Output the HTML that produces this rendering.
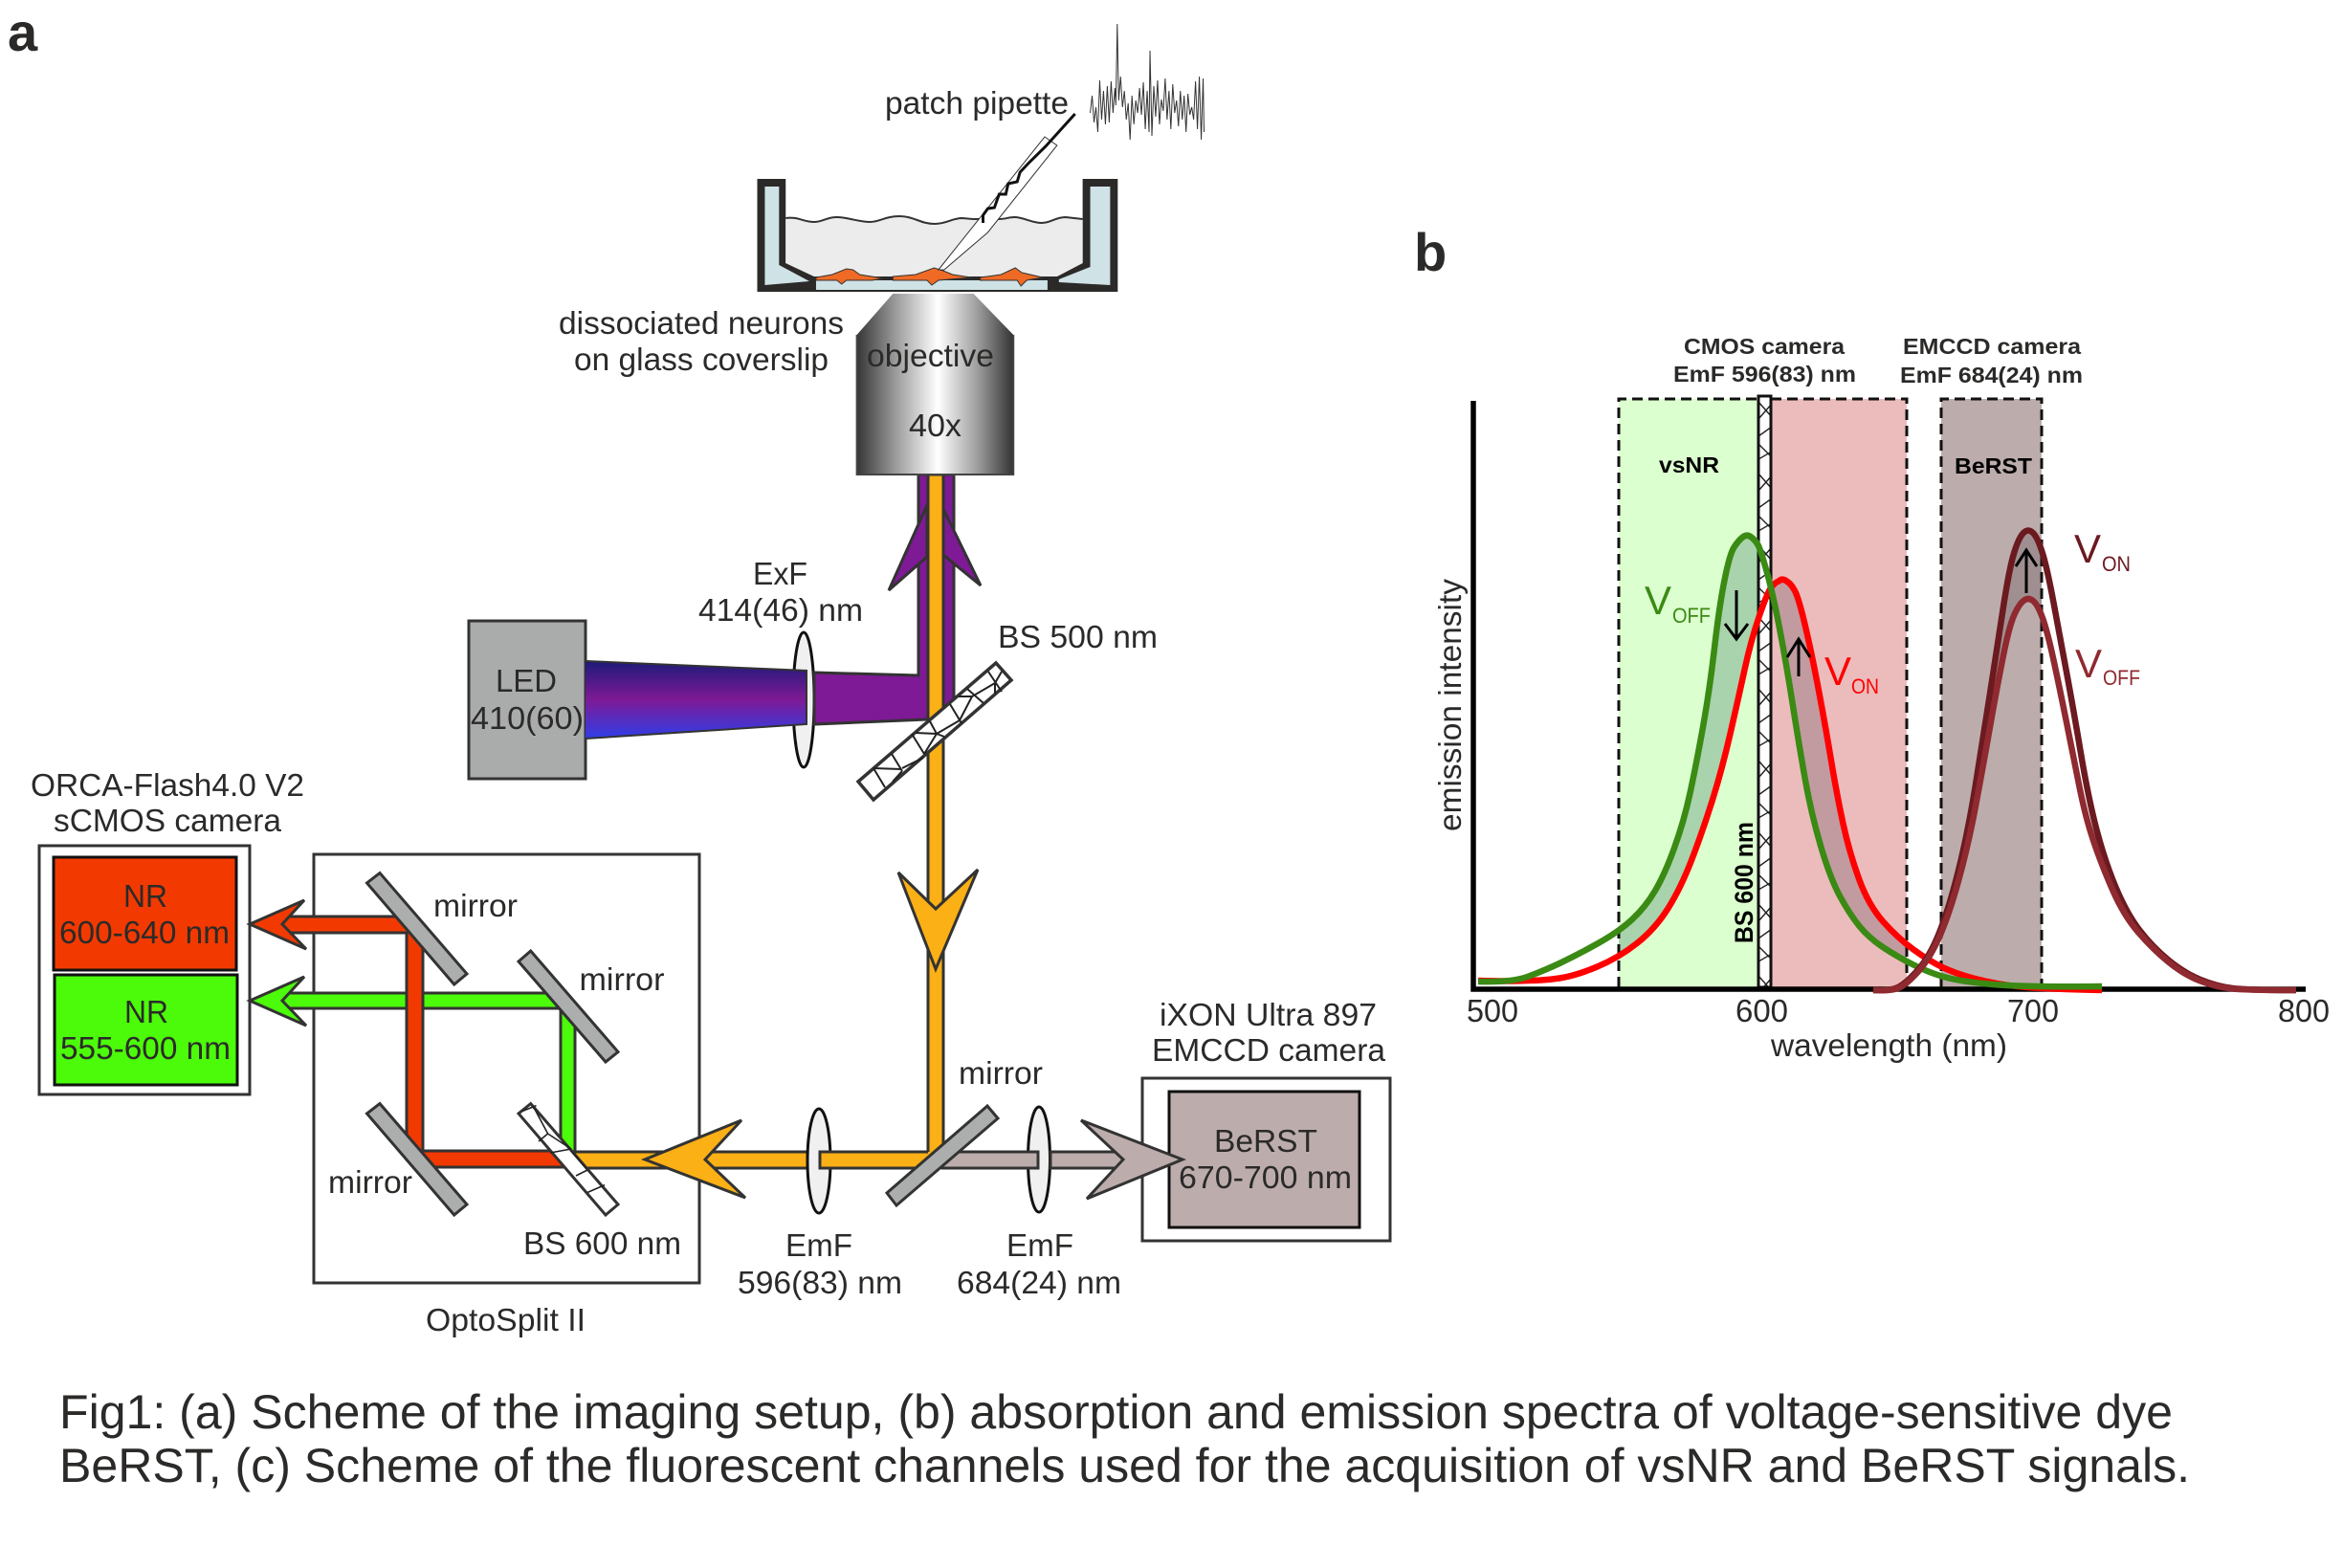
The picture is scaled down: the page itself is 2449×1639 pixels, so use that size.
<!DOCTYPE html>
<html><head><meta charset="utf-8"><title>Fig1</title>
<style>html,body{margin:0;padding:0;background:#fff}svg{display:block}
text{font-family:"Liberation Sans",sans-serif;fill:#2b2a29;font-size:33px}
.b{font-weight:bold;font-size:23px}
.c{stroke:#333;stroke-width:3;stroke-linejoin:miter}
</style></head><body>
<svg xmlns="http://www.w3.org/2000/svg" width="2449" height="1639" viewBox="0 0 2449 1639">
<defs>
<linearGradient id="obj" gradientUnits="userSpaceOnUse" x1="897" y1="0" x2="1063" y2="0">
<stop offset="0" stop-color="#333"/><stop offset=".25" stop-color="#9a9a9a"/><stop offset=".52" stop-color="#fff"/><stop offset=".78" stop-color="#9a9a9a"/><stop offset="1" stop-color="#333"/></linearGradient>
<linearGradient id="led" x1="0" y1="0" x2="0" y2="1">
<stop offset="0" stop-color="#1d1a78"/><stop offset=".5" stop-color="#7e1a95"/><stop offset="1" stop-color="#2f3ee8"/></linearGradient>
<pattern id="zig" patternUnits="userSpaceOnUse" x="1838" y="414" width="14" height="75">
<path d="M0 6L14 22M0 24L14 8M0 42L14 32M0 50L14 64M0 66L14 58" fill="none" stroke="#222" stroke-width="1.4"/></pattern>
</defs>

<!-- dish -->
<g transform="matrix(.9916 0 0 1 5.16 0)">
<path d="M793 187H823V275L853 289H1109L1136 275V187H1173V305H793Z" fill="#2b2a29"/>
<polygon points="801,195 816,195 816,277 848,294 801,298" fill="#cfe2e6"/>
<polygon points="1144,195 1165,195 1165,298 1111,295 1111,292 1144,279" fill="#cfe2e6"/>
<path d="M823 228C835 226 842 232 853 232C862 232 866 227 877 227C888 227 900 232 912 232C922 232 928 226 943 226C958 226 965 234 980 234C993 234 998 228 1009 228L1021 229L1048 229C1055 229 1058 227 1064 227C1074 227 1082 233 1093 233C1103 233 1107 227 1118 227L1136 229L1136 275 1109 289 853 289 823 275Z" fill="#ececec"/>
<path d="M823 228C835 226 842 232 853 232C862 232 866 227 877 227C888 227 900 232 912 232C922 232 928 226 943 226C958 226 965 234 980 234C993 234 998 228 1009 228L1021 229L1048 229C1055 229 1058 227 1064 227C1074 227 1082 233 1093 233C1103 233 1107 227 1118 227L1136 229" fill="none" stroke="#333" stroke-width="2"/>
<rect x="855" y="293" width="244" height="10" fill="#cfe2e6"/>
<polygon points="855,290 872,287 887,281 894,282 901,287 926,291 914,293 887,293 882,297 877,293 855,293" fill="#ee6a25" stroke="#333" stroke-width="1"/>
<polygon points="936,289 960,287 979.5,280 989,283 999,287 1018.5,290 984,293 977,298 972,293 936,293" fill="#ee6a25" stroke="#333" stroke-width="1"/>
<polygon points="1028,290 1050,287 1065,280 1072,285 1094,290 1077,293 1071,299 1067,293 1028,293" fill="#ee6a25" stroke="#333" stroke-width="1"/>
<polygon points="984,282 1096,143 1109,152 1036,243 990,282" fill="#fff" stroke="#333" stroke-width="1"/>
<polyline points="1128,119 1097,153 1079.5,170 1070,180 1067,190 1057.5,192 1055,203 1048,203 1043,217 1036,218 1031,225 1031,233" fill="none" stroke="#111" stroke-width="3"/>
<polyline points="1144,118 1146,100 1148,128 1150,112 1152,138 1154,84 1156,125 1158,95 1160,130 1162,90 1164,128 1166,85 1168,118 1170,92 1171,110 1172.5,25 1174,105 1176,80 1178,112 1180,95 1182,125 1184,108 1186,146 1188,100 1190,130 1192,105 1194,118 1196,92 1198,120 1200,86 1202,135 1204,95 1206,138 1207,53 1209,142 1211,90 1213,122 1215,84 1217,130 1219,104 1221,116 1223,82 1225,125 1227,95 1229,135 1231,88 1233,118 1235,105 1237,132 1239,95 1241,125 1243,100 1245,138 1247,98 1249,120 1251,112 1253,125 1255,85 1257,135 1259,80 1261,146 1263,82 1264,138" fill="none" stroke="#333" stroke-width="1"/>
</g>

<!-- LED & excitation -->
<rect x="490" y="649" width="122" height="165" fill="#aaacac" class="c"/>
<ellipse cx="840" cy="731.5" rx="11" ry="70.5" fill="#f0f0f0" stroke="#111" stroke-width="3"/>
<polygon points="612,691 843,701 843,757 612,772" fill="url(#led)"/>
<path d="M612 691L843 701V757L612 772" fill="none" stroke="#333" stroke-width="2"/>
<polygon points="851,703 960,706 960,496 997,496 997,735 969,752 851,757" fill="#7e1a95" class="c"/>
<polygon points="969,528 929,617 969,582" fill="#7e1a95" class="c"/>
<polygon points="986,532 1025,612 986,580" fill="#7e1a95" class="c"/>

<!-- orange beam -->
<rect x="970" y="496" width="16" height="712" fill="#fbb016" class="c"/>
<polygon points="897,817 1041,693 1057,711 913,836" fill="#fff" stroke="#333" stroke-width="3.5"/>
<path d="M913 803L925 823M913 803L942 804M932 788L943 806M933 817L943 806M943 803L965 792M953 767L966 788M966 788L979 767M957 766L979 767M972 754L979 767M979 767L1003 753M979 767L987 770M993 736L1005 756M1003 753L1016 728M1002 728L1016 728M1011 720L1028 735M1016 728L1040 714M1033 702L1047 723M1040 714L1040 725M1040 714L1047 702" stroke="#222" stroke-width="2" fill="none"/>
<polygon points="939,912 978,950 1022,909 978,1013" fill="#fbb016" class="c"/>

<!-- objective -->
<g transform="matrix(.9916 0 0 1 5.16 0)">
<polygon points="936,307 1021,307 1063,350 1063,496 898,496 898,350" fill="url(#obj)"/>
<path d="M898 350V496H1063V350" fill="none" stroke="#444" stroke-width="2"/>
</g>

<!-- camera 1 -->
<rect x="41" y="884" width="220" height="260" fill="#fff" class="c"/>
<rect x="56" y="896" width="191" height="118" fill="#f23a00" stroke="#111" stroke-width="3"/>
<rect x="57" y="1019" width="191" height="115" fill="#4cfb0a" stroke="#111" stroke-width="3"/>

<!-- optosplit -->
<rect x="328" y="893" width="403" height="448" fill="#fff" class="c"/>
<polygon points="295,1038 580,1038 601,1055 601,1212 586,1212 586,1054 295,1054" fill="#4cfb0a" class="c"/>
<polygon points="295,958 430,958 442,970 442,1203 590,1203 590,1220 440,1220 425,1212 425,975 295,975" fill="#f23a00" class="c"/>
<polygon points="318,941 295,966 320,992 261,966" fill="#f23a00" class="c"/>
<polygon points="318,1021 295,1046 320,1072 261,1046" fill="#4cfb0a" class="c"/>
<polygon points="397,912.5 383.5,923 474.7,1029 488,1018" fill="#acadad" class="c"/>
<polygon points="554.7,994 542,1005 633,1110 646,1099.5" fill="#acadad" class="c"/>
<polygon points="397,1153.6 383.5,1164 474.7,1270 488,1259" fill="#acadad" class="c"/>

<!-- lenses and emission beams -->
<rect x="596" y="1204" width="248" height="17" fill="#fbb016" class="c"/>
<ellipse cx="856" cy="1213.5" rx="12" ry="54.5" fill="#f0f0f0" stroke="#111" stroke-width="3"/>
<ellipse cx="1086" cy="1212" rx="11.5" ry="55" fill="#f0f0f0" stroke="#111" stroke-width="3"/>
<rect x="857" y="1204" width="120" height="17" fill="#fbb016" class="c"/>
<rect x="985" y="1204" width="100" height="17" fill="#bcadac" class="c"/>
<rect x="1098" y="1204" width="88" height="17" fill="#bcadac" class="c"/>
<rect x="970" y="1190" width="16" height="20" fill="#fbb016"/>
<path d="M970 1190V1204M986 1190V1204" stroke="#333" stroke-width="3"/>
<polygon points="554.7,1153.6 542,1164 633,1270 646,1259" fill="#fff" class="c"/>
<path d="M546 1161.5L560.5 1155.6M558 1157.6L572.6 1185M572.6 1185L597 1201M563 1193L572.6 1185M575 1205L597 1201M597 1203L614 1223M602 1229L614 1223M614 1246.5L632 1238.6" stroke="#222" stroke-width="1.6" fill="none"/>
<polygon points="775,1171 737,1212 779,1252 674,1212" fill="#fbb016" class="c"/>
<polygon points="1032,1156 1043,1169 937,1260 927,1247" fill="#acadad" class="c"/>

<!-- camera 2 -->
<rect x="1194" y="1127" width="259" height="170" fill="#fff" class="c"/>
<rect x="1222" y="1141" width="199" height="142" fill="#bcadac" stroke="#111" stroke-width="3"/>
<polygon points="1130,1171 1174,1212 1136,1253 1236,1212" fill="#bcadac" class="c"/>

<!-- panel a labels -->
<text x="925" y="119" textLength="192" lengthAdjust="spacingAndGlyphs">patch pipette</text>
<text x="584" y="349" textLength="298" lengthAdjust="spacingAndGlyphs">dissociated neurons</text>
<text x="600" y="387" textLength="266" lengthAdjust="spacingAndGlyphs">on glass coverslip</text>
<text x="906" y="383" textLength="133" lengthAdjust="spacingAndGlyphs">objective</text>
<text x="950" y="456" textLength="55" lengthAdjust="spacingAndGlyphs">40x</text>
<text x="787" y="611" textLength="57" lengthAdjust="spacingAndGlyphs">ExF</text>
<text x="730" y="649" textLength="172" lengthAdjust="spacingAndGlyphs">414(46) nm</text>
<text x="1043" y="677" textLength="167" lengthAdjust="spacingAndGlyphs">BS 500 nm</text>
<text x="518" y="723" textLength="64" lengthAdjust="spacingAndGlyphs">LED</text>
<text x="492" y="762" textLength="118" lengthAdjust="spacingAndGlyphs">410(60)</text>
<text x="32" y="832" textLength="286" lengthAdjust="spacingAndGlyphs">ORCA-Flash4.0 V2</text>
<text x="56" y="869" textLength="238" lengthAdjust="spacingAndGlyphs">sCMOS camera</text>
<text x="129" y="948" textLength="46" lengthAdjust="spacingAndGlyphs">NR</text>
<text x="62" y="986" textLength="178" lengthAdjust="spacingAndGlyphs">600-640 nm</text>
<text x="130" y="1069" textLength="46" lengthAdjust="spacingAndGlyphs">NR</text>
<text x="63" y="1107" textLength="178" lengthAdjust="spacingAndGlyphs">555-600 nm</text>
<text x="453" y="958" textLength="88" lengthAdjust="spacingAndGlyphs">mirror</text>
<text x="605.5" y="1035" textLength="89" lengthAdjust="spacingAndGlyphs">mirror</text>
<text x="343" y="1247" textLength="88" lengthAdjust="spacingAndGlyphs">mirror</text>
<text x="547" y="1311" textLength="165" lengthAdjust="spacingAndGlyphs">BS 600 nm</text>
<text x="445" y="1391" textLength="167" lengthAdjust="spacingAndGlyphs">OptoSplit II</text>
<text x="1002" y="1133" textLength="88" lengthAdjust="spacingAndGlyphs">mirror</text>
<text x="821" y="1313" textLength="70" lengthAdjust="spacingAndGlyphs">EmF</text>
<text x="771" y="1352" textLength="172" lengthAdjust="spacingAndGlyphs">596(83) nm</text>
<text x="1052" y="1313" textLength="70" lengthAdjust="spacingAndGlyphs">EmF</text>
<text x="1000" y="1352" textLength="172" lengthAdjust="spacingAndGlyphs">684(24) nm</text>
<text x="1212" y="1072" textLength="227" lengthAdjust="spacingAndGlyphs">iXON Ultra 897</text>
<text x="1204" y="1109" textLength="244" lengthAdjust="spacingAndGlyphs">EMCCD camera</text>
<text x="1269" y="1204" textLength="108" lengthAdjust="spacingAndGlyphs">BeRST</text>
<text x="1232" y="1242" textLength="181" lengthAdjust="spacingAndGlyphs">670-700 nm</text>

<!-- panel b -->
<rect x="1692" y="417" width="146" height="615" fill="#dcffcf"/>
<rect x="1851" y="417" width="142" height="615" fill="#ecbcbc"/>
<rect x="2029" y="417" width="105" height="615" fill="#bcadac"/>
<polygon points="1692,974 1720,948 1740,914 1760,859 1773,799 1787,721 1797,634 1808,579 1817,565 1826,560 1833,565 1840,574 1851,612 1847,620 1830,670 1817,730 1800,804 1780,868 1757,928 1730,971 1692,1001" fill="#a9d3ac"/>
<polygon points="1851,612 1855,609 1863,606 1872,611 1880,625 1893,680 1907,753 1920,831 1933,891 1953,946 1983,980 1993,987 1993,1006 1983,1000 1953,980 1933,955 1913,918 1893,850 1880,776 1867,693 1853,620" fill="#c19ba0"/>
<polygon points="2057,870 2073,770 2087,680 2100,595 2110,562 2120,554 2130,562 2134,575 2134,645 2130,632 2120,626 2110,632 2100,655 2087,720 2073,800 2057,885" fill="#a08f90"/>
<rect x="1838" y="414" width="14" height="618" fill="#fff"/>
<rect x="1838" y="414" width="14" height="618" fill="url(#zig)"/>
<rect x="1838" y="414" width="13" height="618" fill="none" stroke="#111" stroke-width="3"/>
<path d="M1692 1032V417H1838M1851 417H1993V1032M2029 1032V417H2134V1032" fill="none" stroke="#111" stroke-width="3" stroke-dasharray="11 6"/>
<path d="M1540 419V1034H2410" fill="none" stroke="#000" stroke-width="5.5"/>

<path d="M1545 1025Q1580 1026 1596 1025Q1613 1025 1630 1022.5Q1647 1020 1669.5 1010.5Q1692 1001 1711 986Q1730 971 1743.5 949.5Q1757 928 1768.5 898Q1780 868 1790 836Q1800 804 1808.5 767Q1817 730 1823.5 700Q1830 670 1838.5 645Q1847 620 1851 614.5Q1855 609 1859 607.5Q1863 604 1867.5 607.5Q1872 610 1876 617.5Q1880 625 1886.5 652.5Q1893 680 1900 716.5Q1907 753 1913.5 792Q1920 831 1926.5 861Q1933 891 1943 918.5Q1953 946 1968 963Q1983 980 2000 992.5Q2017 1005 2033.5 1012.5Q2050 1020 2075 1025.5Q2100 1031 2125 1032.5Q2150 1034 2197 1035" fill="none" stroke="#f00" stroke-width="6.5"/>
<path d="M1545 1026Q1580 1027 1596.5 1021Q1613 1015 1630 1007Q1647 999 1669.5 986.5Q1692 974 1706 961Q1720 948 1730 931Q1740 914 1750 886.5Q1760 859 1766.5 829Q1773 799 1780 760Q1787 721 1792 677.5Q1797 634 1802.5 606.5Q1808 579 1812.5 572Q1817 565 1821.5 561.5Q1826 558 1830.5 561.5Q1835 565 1837.5 569.5Q1840 574 1846.5 597Q1853 620 1860 656.5Q1867 693 1873.5 734.5Q1880 776 1886.5 813Q1893 850 1903 884Q1913 918 1923 936.5Q1933 955 1943 967.5Q1953 980 1968 990Q1983 1000 2000 1008.5Q2017 1017 2033.5 1021.5Q2050 1026 2083.5 1029Q2117 1032 2197 1031" fill="none" stroke="#3a8a14" stroke-width="6.5"/>
<path d="M1958 1035Q1977 1036 1985 1031.5Q1993 1027 2005 1013.5Q2017 1000 2027 975Q2037 950 2047 910Q2057 870 2065 820Q2073 770 2080 725Q2087 680 2093.5 637.5Q2100 595 2105 578.5Q2110 562 2115 557Q2120 552 2125 557Q2130 562 2135 578.5Q2140 595 2146.5 630Q2153 665 2160 702.5Q2167 740 2175 787.5Q2183 835 2191.5 867.5Q2200 900 2211.5 927.5Q2223 955 2236.5 972.5Q2250 990 2266.5 1003.5Q2283 1017 2300 1024Q2317 1031 2333.5 1033Q2350 1035 2400 1035" fill="none" stroke="#6b1a20" stroke-width="6.5"/>
<path d="M1958 1035Q1977 1036 1985 1032.5Q1993 1029 2005 1015.5Q2017 1002 2027 979.5Q2037 957 2047 921Q2057 885 2065 842.5Q2073 800 2080 760Q2087 720 2093.5 687.5Q2100 655 2105 643.5Q2110 632 2115 628Q2120 624 2125 628Q2130 632 2135 646Q2140 660 2146.5 690Q2153 720 2160 755Q2167 790 2173.5 822.5Q2180 855 2188.5 880Q2197 905 2208.5 931Q2220 957 2235 974.5Q2250 992 2266.5 1005.5Q2283 1019 2300 1025.5Q2317 1032 2333.5 1033.5Q2350 1035 2400 1035" fill="none" stroke="#8f2a30" stroke-width="6.5"/>

<path d="M1815 617V668M1803 652L1815 668L1827 652M1880 707V668M1868 687L1880 668L1892 687M2118 620V575M2107 592L2118 575L2129 592" fill="none" stroke="#000" stroke-width="3"/>

<text class="b" x="1760" y="370" textLength="168" lengthAdjust="spacingAndGlyphs">CMOS camera</text>
<text class="b" x="1749" y="399" textLength="191" lengthAdjust="spacingAndGlyphs">EmF 596(83) nm</text>
<text class="b" x="1989" y="370" textLength="186" lengthAdjust="spacingAndGlyphs">EMCCD camera</text>
<text class="b" x="1986" y="400" textLength="191" lengthAdjust="spacingAndGlyphs">EmF 684(24) nm</text>
<text class="b" style="fill:#000" x="1734" y="494" textLength="63" lengthAdjust="spacingAndGlyphs">vsNR</text>
<text class="b" style="fill:#000" x="2043" y="495" textLength="81" lengthAdjust="spacingAndGlyphs">BeRST</text>
<text style="fill:#3a8a14;font-size:42px" x="1719" y="642" textLength="28" lengthAdjust="spacingAndGlyphs">V</text>
<text style="fill:#3a8a14;font-size:22px" x="1748" y="651" textLength="40" lengthAdjust="spacingAndGlyphs">OFF</text>
<text style="fill:#f00;font-size:42px" x="1907" y="716" textLength="28" lengthAdjust="spacingAndGlyphs">V</text>
<text style="fill:#f00;font-size:22px" x="1935" y="725" textLength="29" lengthAdjust="spacingAndGlyphs">ON</text>
<text style="fill:#6b1a20;font-size:42px" x="2168" y="588" textLength="28" lengthAdjust="spacingAndGlyphs">V</text>
<text style="fill:#6b1a20;font-size:22px" x="2197" y="597" textLength="30" lengthAdjust="spacingAndGlyphs">ON</text>
<text style="fill:#8f2a30;font-size:42px" x="2169" y="708" textLength="28" lengthAdjust="spacingAndGlyphs">V</text>
<text style="fill:#8f2a30;font-size:22px" x="2198" y="716" textLength="39" lengthAdjust="spacingAndGlyphs">OFF</text>
<text x="1533" y="1068" textLength="54" lengthAdjust="spacingAndGlyphs">500</text>
<text x="1814" y="1068" textLength="55" lengthAdjust="spacingAndGlyphs">600</text>
<text x="2098" y="1068" textLength="54" lengthAdjust="spacingAndGlyphs">700</text>
<text x="2381" y="1068" textLength="54" lengthAdjust="spacingAndGlyphs">800</text>
<text x="1851" y="1104" textLength="247" lengthAdjust="spacingAndGlyphs">wavelength (nm)</text>
<text transform="translate(1527 869) rotate(-90)" x="0" y="0" textLength="264" lengthAdjust="spacingAndGlyphs">emission intensity</text>
<text transform="translate(1832 986) rotate(-90)" x="0" y="0" style="font-weight:bold;font-size:27px;fill:#000" textLength="127" lengthAdjust="spacingAndGlyphs">BS 600 nm</text>

<text x="8" y="53" style="font-weight:bold;font-size:56px">a</text>
<text x="1478" y="283" style="font-weight:bold;font-size:56px">b</text>

<text x="62" y="1493" style="font-size:50px" textLength="2209" lengthAdjust="spacingAndGlyphs">Fig1: (a) Scheme of the imaging setup, (b) absorption and emission spectra of voltage-sensitive dye</text>
<text x="62" y="1549" style="font-size:50px" textLength="2227" lengthAdjust="spacingAndGlyphs">BeRST, (c) Scheme of the fluorescent channels used for the acquisition of vsNR and BeRST signals.</text>
</svg>
</body></html>
